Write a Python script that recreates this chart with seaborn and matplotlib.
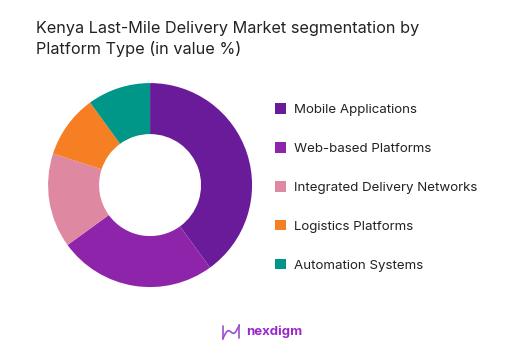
import matplotlib
matplotlib.use("Agg")
import matplotlib.pyplot as plt
import matplotlib.patches as mpatches
import seaborn as sns
import numpy as np

# Platform type shares (in value %)
categories = [
    "Mobile Applications",
    "Web-based Platforms",
    "Integrated Delivery Networks",
    "Logistics Platforms",
    "Automation Systems",
]
shares = [40, 25, 15, 10, 10]
colors = ["#6A1B9A", "#8E24AA", "#DE88A2", "#F57F22", "#009688"]

title = "Kenya Last-Mile Delivery Market segmentation by\nPlatform Type (in value %)"

sns.set_theme(style="white")
plt.rcParams["font.family"] = ["Inter", "DejaVu Sans"]

fig = plt.figure(figsize=(5.26, 3.62), dpi=100)
fig.patch.set_facecolor("white")

# Donut
ax = fig.add_axes([0.0913, 0.207, 0.388, 0.5635])
wedges, _ = ax.pie(
    shares,
    colors=colors,
    startangle=90,
    counterclock=False,
    wedgeprops=dict(width=0.5, edgecolor="none"),
)
ax.set_xlim(-1, 1)
ax.set_ylim(-1, 1)
ax.set_aspect("equal")
ax.axis("off")

# Title
fig.text(36 / 526, 1 - 21 / 362, title, ha="left", va="top",
         fontsize=11.7, color="#222222", linespacing=1.4)

# Legend
handles = [mpatches.Patch(facecolor=c, edgecolor="none", label=l)
           for c, l in zip(colors, categories)]
fig.legend(handles=handles, loc="upper left",
           bbox_to_anchor=(263 / 526, 1 - 91 / 362),
           frameon=False, fontsize=9.6, labelspacing=1.95,
           handlelength=0.85, handleheight=0.85, handletextpad=0.6,
           labelcolor="#222222")

# Logo
logo_ax = fig.add_axes([222 / 526, 1 - 340 / 362, 18 / 526, 16 / 362])
t = np.linspace(0, 1, 60)
logo_ax.plot(t, 0.5 + 0.45 * np.sin(2 * np.pi * (t - 0.25)) * (1 - 2 * t), color="#9C4DCC", lw=1.2)
logo_ax.plot([0.05, 0.05], [0.05, 0.9], color="#9C4DCC", lw=1.2)
logo_ax.plot([0.95, 0.95], [0.1, 0.95], color="#9C4DCC", lw=1.2)
logo_ax.set_xlim(0, 1)
logo_ax.set_ylim(0, 1)
logo_ax.axis("off")
fig.text(246 / 526, 1 - 332 / 362, "nexdigm", ha="left", va="center",
         fontsize=9.5, fontweight="bold", color="#9B27C9")

fig.savefig("out.png", dpi=100, facecolor="white")
